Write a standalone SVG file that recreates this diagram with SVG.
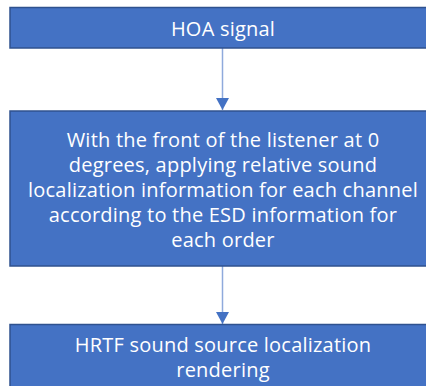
<svg xmlns="http://www.w3.org/2000/svg" width="426" height="386" viewBox="0 0 426 386">
<style>
.box{fill:#4472C4;stroke:#2F528F;stroke-width:1.5}
.t{font-family:"Open Sans","Noto Sans","DejaVu Sans",sans-serif;font-size:20px;letter-spacing:0.22px;fill:#FFFFFF;text-anchor:middle}
.c{stroke:#8FAADC;stroke-width:1.5;fill:none}
</style>
<defs>
<marker id="ah" markerUnits="userSpaceOnUse" markerWidth="13" markerHeight="13" refX="12" refY="6.5" orient="auto">
<path d="M0,0 L12,6.5 L0,13 Z" fill="#4472C4"/>
</marker>
</defs>
<rect width="426" height="386" fill="#FFFFFF"/>
<g id="connectors">
<line class="c" x1="222.5" y1="48" x2="222.5" y2="110" marker-end="url(#ah)"/>
<line class="c" x1="222.5" y1="266" x2="222.5" y2="324" marker-end="url(#ah)"/>
</g>
<g id="node-hoa">
<rect class="box" x="10" y="7.5" width="426" height="40.5"/>
<text class="t" x="223" y="36">HOA signal</text>
</g>
<g id="node-localization">
<rect class="box" x="10" y="111" width="426" height="155"/>
<text class="t" x="223" y="146.7">With the front of the listener at 0</text>
<text class="t" x="223" y="171.7">degrees, applying relative sound</text>
<text class="t" x="223" y="196.7">localization information for each channel</text>
<text class="t" x="223" y="221.7">according to the ESD information for</text>
<text class="t" x="223" y="246.7">each order</text>
</g>
<g id="node-hrtf">
<rect class="box" x="10" y="324.5" width="426" height="70"/>
<text class="t" x="223" y="351.7">HRTF sound source localization</text>
<text class="t" x="223" y="376.7">rendering</text>
</g>
</svg>
